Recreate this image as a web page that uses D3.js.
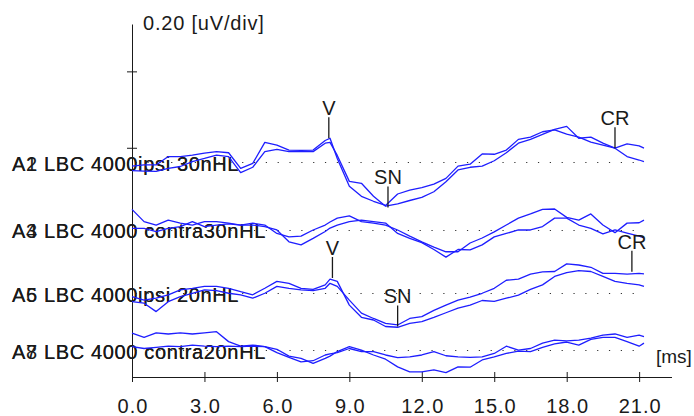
<!DOCTYPE html>
<html>
<head>
<meta charset="utf-8">
<script src="https://cdn.jsdelivr.net/npm/d3@7"></script>
<style>
  html, body { margin: 0; padding: 0; background: #fff; }
  svg { display: block; }
</style>
</head>
<body>
<div id="chart"></div>
<script>
// sample times (ms)
const TIME_MS = [0, 0.5, 1, 1.5, 2, 2.5, 3, 3.5, 4, 4.5, 5, 5.5, 6, 6.5, 7, 7.5, 8, 8.2, 8.5,
  9, 9.5, 10, 10.5, 11, 11.5, 12, 12.5, 13, 13.5, 14, 14.5, 15, 15.5, 16, 16.5, 17, 17.5,
  18, 18.5, 19, 19.5, 20, 20.5, 21, 21.2];

// amplitudes in uV, one array per recording
const A1 = [-0.010, -0.007, -0.007, 0.015, 0.015, 0.019, 0.024, 0.028, 0.025, -0.016, -0.003, 0.052, 0.045, 0.032, 0.031, 0.032, 0.057, 0.063, 0.010,
  -0.063, -0.089, -0.102, -0.113, -0.083, -0.073, -0.066, -0.057, -0.042, -0.010, -0.005, 0.022, 0.021, 0.032, 0.060, 0.066, 0.080, 0.085,
  0.074, 0.066, 0.053, 0.045, 0.037, 0.048, 0.043, 0.037];
const A2 = [-0.022, -0.023, -0.024, -0.016, -0.011, 0.002, 0.010, 0.019, 0.015, -0.027, -0.013, 0.028, 0.034, 0.028, 0.028, 0.028, 0.050, 0.052, 0.018,
  -0.050, -0.055, -0.089, -0.115, -0.109, -0.100, -0.092, -0.077, -0.051, -0.020, -0.013, -0.010, 0.004, 0.025, 0.050, 0.060, 0.073, 0.086,
  0.094, 0.063, 0.066, 0.050, 0.037, 0.015, 0.006, 0.002];
const A3 = [0.054, 0.022, 0.013, 0.026, 0.018, 0.013, 0.022, 0.022, 0.018, 0.013, 0.018, 0.013, -0.009, -0.018, -0.016, 0.000, 0.013, 0.021, 0.031,
  0.037, 0.022, 0.018, 0.013, 0.000, -0.016, -0.031, -0.045, -0.057, -0.057, -0.034, -0.021, -0.005, 0.013, 0.031, 0.042, 0.054, 0.055,
  0.033, 0.026, 0.042, 0.013, -0.007, 0.018, 0.019, 0.026];
const A4 = [0.004, 0.004, -0.004, 0.004, 0.009, 0.022, 0.009, 0.013, 0.016, 0.013, 0.013, 0.009, 0.000, -0.031, -0.039, -0.022, -0.004, 0.005, 0.013,
  0.022, 0.026, 0.022, 0.018, -0.009, -0.022, -0.033, -0.051, -0.071, -0.051, -0.052, -0.039, -0.018, -0.009, 0.000, 0.000, 0.009, 0.031,
  0.031, 0.013, 0.004, -0.010, 0.000, -0.008, -0.016, -0.021];
const A5 = [-0.009, -0.018, -0.013, -0.004, 0.009, 0.013, 0.018, 0.018, 0.013, 0.004, -0.004, 0.013, 0.031, 0.026, 0.013, 0.010, 0.022, 0.037, 0.031,
  -0.031, -0.063, -0.070, -0.087, -0.089, -0.079, -0.074, -0.063, -0.051, -0.039, -0.031, -0.019, -0.021, -0.013, -0.005, 0.010, 0.022, 0.044,
  0.054, 0.059, 0.057, 0.044, 0.031, 0.026, 0.022, 0.018];
const A6 = [-0.022, -0.026, -0.048, -0.022, -0.009, 0.000, 0.009, 0.007, 0.000, -0.004, -0.013, 0.000, 0.018, 0.013, 0.009, 0.007, 0.013, 0.026, 0.018,
  -0.018, -0.052, -0.066, -0.079, -0.083, -0.066, -0.061, -0.045, -0.031, -0.018, -0.010, 0.000, 0.013, 0.034, 0.037, 0.050, 0.056, 0.057,
  0.077, 0.074, 0.068, 0.052, 0.052, 0.050, 0.052, 0.051];
const A7 = [0.044, 0.033, 0.045, 0.042, 0.045, 0.042, 0.045, 0.048, 0.022, 0.010, 0.013, 0.009, -0.007, -0.019, -0.031, -0.028, -0.013, -0.010, -0.007,
  0.004, -0.004, -0.004, -0.013, -0.020, -0.018, -0.013, -0.004, -0.015, -0.018, -0.019, -0.018, -0.009, 0.010, 0.000, 0.004, 0.018, 0.026,
  0.024, 0.026, 0.031, 0.039, 0.042, 0.033, 0.039, 0.035];
const A8 = [0.009, 0.004, 0.007, 0.010, 0.009, 0.013, 0.010, 0.009, 0.010, 0.009, 0.010, 0.009, 0.002, -0.016, -0.022, -0.035, -0.022, -0.016, -0.004,
  0.009, 0.000, -0.013, -0.024, -0.044, -0.057, -0.057, -0.052, -0.059, -0.044, -0.045, -0.026, -0.018, -0.009, -0.003, -0.004, 0.007, 0.016,
  0.021, 0.013, 0.028, 0.033, 0.033, 0.022, 0.010, 0.018];

// traces: pairs of recordings drawn on one baseline
const TRACE_SERIES = [[A1, A2], [A3, A4], [A5, A6], [A7, A8]];
const TRACE_LABELS = [
  ["A1 LBC 4000ipsi 30nHL", "A2 LBC 4000ipsi 30nHL"],
  ["A3 LBC 4000 contra30nHL", "A4 LBC 4000 contra30nHL"],
  ["A5 LBC 4000ipsi 20nHL", "A6 LBC 4000ipsi 20nHL"],
  ["A7 LBC 4000 contra20nHL", "A8 LBC 4000 contra20nHL"]
];
const BASELINE_DIV = [2.81, 1.924, 1.096, 0.353]; // baseline position, in divisions above the time axis
const UV_PER_DIV = 0.2;

// peak markers
const MARKER_LABELS = ["V", "SN", "CR", "V", "SN", "CR"];
const MARKER_TRACE  = [0, 0, 0, 2, 2, 2];
const MARKER_T      = [8.15, 10.6, 20.0, 8.3, 11.0, 20.7];
const MARKER_UV     = [0.063, -0.118, 0.037, 0.040, -0.087, 0.056];

const X_TICKS = [0, 3, 6, 9, 12, 15, 18, 21];
const Y_TICKS_DIV = [3, 4];

const FONT = "'Liberation Sans', Arial, sans-serif";
const W = 694, H = 416;
const INK = "#1a1a1a";
const BLUE = "#1e1eff";

const x = d3.scaleLinear().domain([0, 22.34]).range([132, 671.5]);
const yDiv = d3.scaleLinear().domain([0, 4.62]).range([377, 24]);
const yOf = (trace, uv) => yDiv(BASELINE_DIV[trace] + uv / UV_PER_DIV);

const svg = d3.select("#chart").append("svg")
  .attr("width", W).attr("height", H)
  .attr("font-family", FONT);

// channel labels (two labels printed on top of each other)
TRACE_LABELS.forEach((pair, i) => {
  pair.forEach(txt => {
    svg.append("text")
      .attr("x", 12)
      .attr("y", yOf(i, 0) + 8.5)
      .attr("font-size", 20)
      .attr("letter-spacing", 0.65)
      .attr("fill", INK)
      .text(txt);
  });
});

// dotted baselines
const dotGap = x(0.49) - x(0);
svg.append("g").selectAll("line")
  .data(BASELINE_DIV).join("line")
  .attr("x1", x(0.15)).attr("x2", x(21.05))
  .attr("y1", (d, i) => Math.round(yOf(i, 0)) + 0.5)
  .attr("y2", (d, i) => Math.round(yOf(i, 0)) + 0.5)
  .attr("stroke", "#333")
  .attr("stroke-width", 1.2)
  .attr("stroke-dasharray", `1.2 ${dotGap - 1.2}`);

// time axis
svg.append("g")
  .attr("transform", `translate(0,${yDiv(0)})`)
  .call(d3.axisBottom(x).tickValues(X_TICKS).tickSize(5).tickSizeOuter(0).tickFormat(d3.format(".1f")))
  .call(g => g.select(".domain").attr("stroke", INK))
  .call(g => g.selectAll(".tick line").attr("y1", -5).attr("stroke", INK))
  .call(g => g.selectAll(".tick text")
    .attr("y", 36).attr("dy", null).attr("dx", 0.5)
    .attr("letter-spacing", 1)
    .attr("font-size", 20).attr("font-family", FONT).attr("fill", INK));

// amplitude scale bar
svg.append("g")
  .attr("transform", `translate(${x(0)},0)`)
  .call(d3.axisLeft(yDiv).tickValues(Y_TICKS_DIV).tickSize(5).tickSizeOuter(0).tickFormat(""))
  .call(g => g.select(".domain").attr("stroke", INK))
  .call(g => g.selectAll(".tick line").attr("x1", 5).attr("stroke", INK));

svg.append("text")
  .attr("x", x(0) + 11).attr("y", 30)
  .attr("font-size", 20).attr("letter-spacing", 0.8).attr("fill", INK)
  .text("0.20 [uV/div]");

svg.append("text")
  .attr("x", 656).attr("y", 363)
  .attr("font-size", 19).attr("fill", INK)
  .text("[ms]");

// waveforms
TRACE_SERIES.forEach((pair, i) => {
  const line = d3.line()
    .x((d, k) => x(TIME_MS[k]))
    .y(d => yOf(i, d));
  svg.append("g").selectAll("path")
    .data(pair).join("path")
    .attr("d", line)
    .attr("fill", "none")
    .attr("stroke", BLUE)
    .attr("stroke-width", 1.3)
    .attr("stroke-linejoin", "round");
});

// peak markers
const mk = svg.append("g").selectAll("g")
  .data(MARKER_LABELS).join("g")
  .attr("transform", (d, i) => `translate(${x(MARKER_T[i])},${yOf(MARKER_TRACE[i], MARKER_UV[i])})`);

mk.append("line")
  .attr("x1", 0).attr("x2", 0)
  .attr("y1", 0).attr("y2", -21)
  .attr("stroke", INK).attr("stroke-width", 1.3);

mk.append("text")
  .attr("y", -23)
  .attr("text-anchor", "middle")
  .attr("font-size", 20)
  .attr("fill", INK)
  .text(d => d);
</script>
</body>
</html>
